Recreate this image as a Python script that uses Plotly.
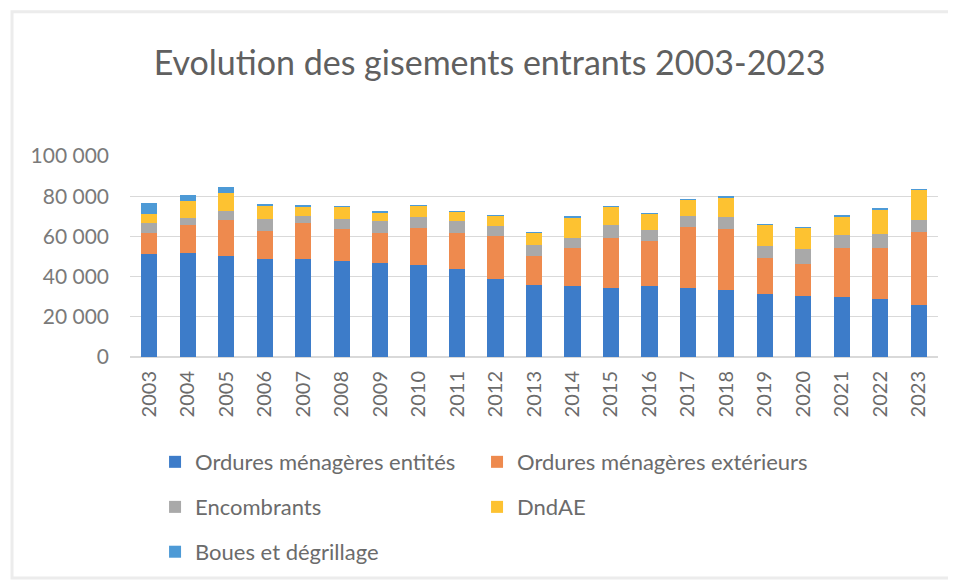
import plotly.graph_objects as go

# Tonnages par année
years = [str(y) for y in range(2003, 2024)]
om_entites = [51000, 51500, 50200, 49000, 48800, 47700, 46900, 46000, 43600, 38600, 35600,
              35300, 34500, 35300, 34200, 33200, 31500, 30300, 29900, 29000, 25900]
om_exterieurs = [10700, 14300, 18100, 13500, 17900, 16000, 14800, 18200, 18100, 21400, 14600,
                 18700, 24800, 22300, 30500, 30500, 17800, 16200, 24400, 25300, 36100]
encombrants = [5000, 3300, 4500, 6300, 3600, 5000, 5800, 5400, 5800, 5300, 5700,
               5300, 6500, 5800, 5600, 5900, 5800, 7300, 6600, 6900, 6300]
dndae = [4600, 8600, 8700, 6100, 4600, 6200, 4400, 5800, 4900, 5000, 5800,
         10200, 9100, 7900, 7900, 9900, 10700, 10400, 9100, 12400, 14900]
boues = [5300, 3000, 3000, 1300, 300, 200, 500, 200, 200, 200, 200,
         200, 200, 200, 200, 200, 200, 200, 200, 200, 200]

# nom, valeurs, couleur, légende (une légende par série, placée à la main)
series = [
    ("Ordures ménagères entités", om_entites, "#3D7CC9", "legend"),
    ("Ordures ménagères extérieurs", om_exterieurs, "#EE8A4E", "legend2"),
    ("Encombrants", encombrants, "#A9A9A9", "legend3"),
    ("DndAE", dndae, "#FDC231", "legend4"),
    ("Boues et dégrillage", boues, "#4D9AD6", "legend5"),
]

fig = go.Figure()
for name, vals, col, leg in series:
    fig.add_trace(go.Bar(x=years, y=vals, name=name, marker_color=col,
                         marker_line_width=0, legend=leg))

font_family = "Lato, 'Open Sans', sans-serif"
legend_common = dict(orientation="h", xanchor="left", yanchor="middle",
                     bgcolor="rgba(0,0,0,0)", font=dict(size=22, color="#6b6b6b"))
col1, col2 = 0.031, 0.4295
row1, row2, row3 = -0.515, -0.738, -0.960

# la page html ajoute 8 px de marge : figure réduite d'autant
fig.update_layout(
    barmode="stack",
    bargap=0.58,
    width=948, height=574,
    margin=dict(l=122, r=18, t=148, b=224),
    paper_bgcolor="white", plot_bgcolor="white",
    separators=", ",
    font=dict(family=font_family, color="#6b6b6b", size=20),
    title=dict(text="Evolution des gisements entrants 2003-2023", x=0.508, xanchor="center",
               y=0.904, yanchor="middle", font=dict(size=34, color="#606060")),
    legend=dict(x=col1, y=row1, **legend_common),
    legend2=dict(x=col2, y=row1, **legend_common),
    legend3=dict(x=col1, y=row2, **legend_common),
    legend4=dict(x=col2, y=row2, **legend_common),
    legend5=dict(x=col1, y=row3, **legend_common),
    showlegend=True,
)
fig.update_yaxes(range=[0, 100000], dtick=20000, tickformat=",d", showgrid=True,
                 gridcolor="#d9d9d9", zeroline=True, zerolinecolor="#d9d9d9",
                 ticks="", ticklabelstandoff=20, tickfont=dict(size=21, color="#7a7a7a"))
fig.update_xaxes(tickangle=-90, showline=False, ticks="", ticklabelstandoff=9,
                 tickfont=dict(size=20, color="#6b6b6b"))

# cadre du graphique
fig.add_shape(type="rect", xref="paper", yref="paper", x0=-0.146, x1=1.06, y0=-1.099, y1=1.718,
              line=dict(color="#ececec", width=3))

fig.write_html("out.html")
